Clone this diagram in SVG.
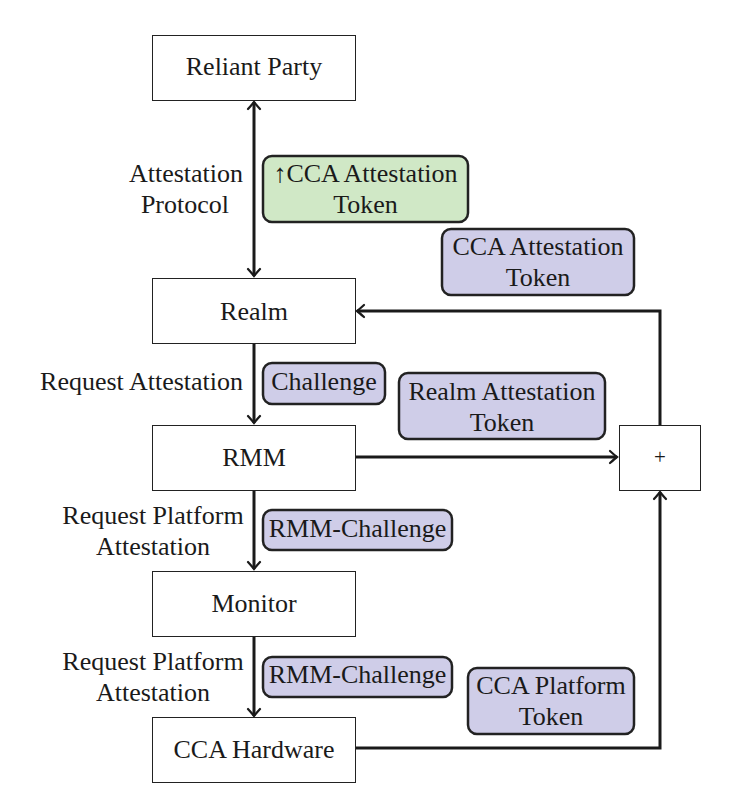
<svg xmlns="http://www.w3.org/2000/svg" width="729" height="800" viewBox="0 0 729 800">
<style>
text{font-family:"Liberation Serif","DejaVu Serif",serif;font-size:26px;fill:#1a1a1a}
.c{text-anchor:middle}
.r{text-anchor:end}
.box{fill:#fff;stroke:#222;stroke-width:1}
.tag{fill:#cfcde8;stroke:#222;stroke-width:2.5}
.green{fill:#d0e8c6;stroke:#222;stroke-width:2.5}
.edge{fill:none;stroke:#1a1a1a;stroke-width:3}
</style>
<defs>
<marker id="ah" markerUnits="userSpaceOnUse" markerWidth="16" markerHeight="16" viewBox="-9 -8 11 16" refX="0" refY="0" orient="auto-start-reverse">
<path d="M-7,-6 Q-2,-1.5 0,0 Q-2,1.5 -7,6" fill="none" stroke="#1a1a1a" stroke-width="2.2" stroke-linecap="round"/>
</marker>
</defs>
<rect width="729" height="800" fill="#fff"/>
<g id="connectors">
<line class="edge" x1="254" y1="102" x2="254" y2="276" marker-start="url(#ah)" marker-end="url(#ah)"/>
<line class="edge" x1="254" y1="343" x2="254" y2="423" marker-end="url(#ah)"/>
<line class="edge" x1="254" y1="490" x2="254" y2="569" marker-end="url(#ah)"/>
<line class="edge" x1="254" y1="636" x2="254" y2="716" marker-end="url(#ah)"/>
<line class="edge" x1="355" y1="457" x2="617" y2="457" marker-end="url(#ah)"/>
<path class="edge" d="M355,748 H660 V492" marker-end="url(#ah)"/>
<path class="edge" d="M660,425 V311 H357" marker-end="url(#ah)"/>
</g>
<g id="reliant-party"><rect class="box" x="152.5" y="35.5" width="203" height="65"/><text class="c" x="254" y="75">Reliant Party</text></g>
<g id="realm"><rect class="box" x="152.5" y="278.5" width="203" height="65"/><text class="c" x="254" y="320">Realm</text></g>
<g id="rmm"><rect class="box" x="152.5" y="425.5" width="203" height="65"/><text class="c" x="254" y="466">RMM</text></g>
<g id="monitor"><rect class="box" x="152.5" y="571.5" width="203" height="65"/><text class="c" x="254" y="612">Monitor</text></g>
<g id="cca-hardware"><rect class="box" x="152.5" y="717.5" width="203" height="65"/><text class="c" x="254" y="758">CCA Hardware</text></g>
<g id="plus"><rect class="box" x="619.5" y="425.5" width="81" height="65"/><text class="c" x="660" y="464" style="font-size:21px">+</text></g>
<g id="label-attestation-protocol"><text class="r" x="243" y="182">Attestation</text><text class="r" x="229" y="213">Protocol</text></g>
<g id="token-green"><rect class="green" x="263" y="156" width="205" height="66" rx="9"/><text class="c" x="365.5" y="182">↑CCA Attestation</text><text class="c" x="365.5" y="213">Token</text></g>
<g id="token-cca-attestation"><rect class="tag" x="442" y="229" width="192" height="66" rx="9"/><text class="c" x="538" y="255">CCA Attestation</text><text class="c" x="538" y="286">Token</text></g>
<g id="label-request-attestation"><text class="r" x="243" y="390">Request Attestation</text></g>
<g id="token-challenge"><rect class="tag" x="263" y="363" width="122" height="41" rx="9"/><text class="c" x="324" y="390">Challenge</text></g>
<g id="token-realm-attestation"><rect class="tag" x="399" y="373" width="206" height="66" rx="9"/><text class="c" x="502" y="400">Realm Attestation</text><text class="c" x="502" y="431">Token</text></g>
<g id="label-request-platform-1"><text class="c" x="153" y="524">Request Platform</text><text class="c" x="153" y="555">Attestation</text></g>
<g id="token-rmm-challenge-1"><rect class="tag" x="263" y="510" width="189" height="40" rx="9"/><text class="c" x="357.5" y="537">RMM-Challenge</text></g>
<g id="label-request-platform-2"><text class="c" x="153" y="670">Request Platform</text><text class="c" x="153" y="701">Attestation</text></g>
<g id="token-rmm-challenge-2"><rect class="tag" x="263" y="657" width="189" height="40" rx="9"/><text class="c" x="357.5" y="683">RMM-Challenge</text></g>
<g id="token-cca-platform"><rect class="tag" x="468" y="668" width="166" height="66" rx="9"/><text class="c" x="551" y="694">CCA Platform</text><text class="c" x="551" y="725">Token</text></g>
</svg>
